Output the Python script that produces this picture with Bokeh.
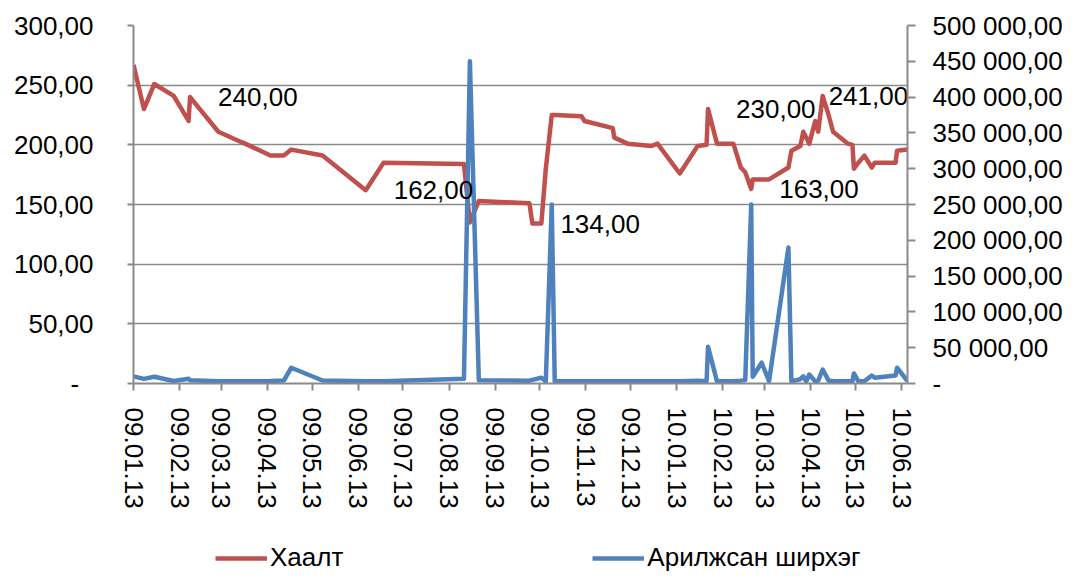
import numpy as np
from bokeh.plotting import figure
from bokeh.layouts import column
from bokeh.models import (Range1d, LinearAxis, FixedTicker, DatetimeTickFormatter,
                          Legend, LegendItem)
from bokeh.core.properties import value
from bokeh.embed import file_html
from bokeh.resources import INLINE

# ---------------- data ----------------
dates = [
    "2009-01-13", "2009-01-20", "2009-01-27", "2009-02-09", "2009-02-19", "2009-02-20",
    "2009-03-11", "2009-03-27", "2009-03-29", "2009-04-15", "2009-04-24", "2009-04-29",
    "2009-05-20", "2009-06-18", "2009-06-30", "2009-08-23", "2009-08-27", "2009-09-02",
    "2009-10-06", "2009-10-08", "2009-10-14", "2009-10-17", "2009-10-21", "2009-10-23",
    "2009-11-10", "2009-11-12", "2009-12-01", "2009-12-02", "2009-12-11", "2009-12-27",
    "2009-12-31", "2010-01-15", "2010-01-27", "2010-02-02", "2010-02-03", "2010-02-09",
    "2010-02-20", "2010-02-25", "2010-02-28", "2010-03-04", "2010-03-05", "2010-03-11",
    "2010-03-16", "2010-03-29", "2010-03-31", "2010-04-06", "2010-04-08", "2010-04-10",
    "2010-04-12", "2010-04-16", "2010-04-18", "2010-04-21", "2010-04-25", "2010-04-28",
    "2010-05-08", "2010-05-11", "2010-05-12", "2010-05-15", "2010-05-19", "2010-05-24",
    "2010-05-26", "2010-06-09", "2010-06-10", "2010-06-17",
]
close_price = [
    267, 230, 251, 241, 220, 240,
    211, 202, 201, 191, 191, 196,
    191, 162, 185, 184, 135, 153,
    151, 134, 134, 180, 225, 225,
    224, 220, 214, 206, 201, 199,
    201, 176, 199, 200, 230, 201,
    201, 181, 177, 163, 171, 171,
    171, 181, 195, 199, 211, 206,
    201, 220, 211, 241, 225, 211,
    201, 200, 180, 185, 191, 181,
    185, 185, 195, 196,
]
volume = [
    10000, 6500, 9400, 3500, 6500, 4600,
    3300, 3000, 3000, 3500, 4200, 22000,
    4200, 3000, 3000, 6500, 450000, 4600,
    4000, 5000, 8000, 3000, 250000, 3000,
    3000, 3000, 3000, 3000, 3000, 3000,
    3000, 3000, 4000, 3000, 51400, 3000,
    3000, 4000, 5000, 250000, 9400, 29000,
    3300, 190000, 3000, 6000, 10000, 3000,
    12600, 3000, 4000, 19600, 4000, 3500,
    3000, 3000, 14000, 3000, 3000, 11200,
    8000, 11200, 22000, 3300,
]

label_dates = ["2009-02-20", "2009-06-18", "2009-10-08", "2010-02-03", "2010-03-04", "2010-04-21"]
label_values = [240, 162, 134, 230, 163, 241]

x_tick_dates = [
    "2009-01-13", "2009-02-13", "2009-03-13", "2009-04-13", "2009-05-13", "2009-06-13",
    "2009-07-13", "2009-08-13", "2009-09-13", "2009-10-13", "2009-11-13", "2009-12-13",
    "2010-01-13", "2010-02-13", "2010-03-13", "2010-04-13", "2010-05-13", "2010-06-13",
]
left_ticks = [0, 50, 100, 150, 200, 250, 300]
left_tick_labels = ["-\u2007", "50,00", "100,00", "150,00", "200,00", "250,00", "300,00"]
right_ticks = [0, 50000, 100000, 150000, 200000, 250000, 300000, 350000, 400000, 450000, 500000]
right_tick_labels = ["-", "50 000,00", "100 000,00", "150 000,00", "200 000,00", "250 000,00",
                     "300 000,00", "350 000,00", "400 000,00", "450 000,00", "500 000,00"]
series_names = ["Хаалт", "Арилжсан ширхэг"]

# ---------------- styling ----------------
FONT = "Liberation Sans"
FS = "26px"
RED = "#C0504D"
BLUE = "#4F81BD"
GRAY = "#8a8a8a"
LW = 4.5
# screen offsets of the data labels (last one pulled in so it stays inside the plot area)
label_offsets = [28, 28, 28, 28, 28, 6]

x = np.array(dates, dtype="datetime64[ms]")
lx = np.array(label_dates, dtype="datetime64[ms]")
xt = np.array(x_tick_dates, dtype="datetime64[ms]").astype("int64").tolist()

p = figure(
    frame_width=774, frame_height=358,
    min_border_left=133, min_border_right=156, min_border_top=25, min_border_bottom=127,
    x_axis_type="datetime",
    x_range=Range1d(x[0], np.datetime64("2010-06-17", "ms")),
    y_range=Range1d(0, 300),
    output_backend="svg", toolbar_location=None,
)
p.outline_line_color = None
p.background_fill_color = "white"
p.border_fill_color = "white"
p.extra_y_ranges = {"vol": Range1d(0, 500000)}


def style_axis(ax, tick_out, standoff):
    ax.axis_line_color = GRAY
    ax.axis_line_width = 2
    ax.major_tick_line_color = GRAY
    ax.major_tick_line_width = 2
    ax.major_tick_in = 0
    ax.major_tick_out = tick_out
    ax.minor_tick_line_color = None
    ax.major_label_standoff = standoff
    ax.major_label_text_font = FONT
    ax.major_label_text_font_size = FS
    ax.major_label_text_color = "black"


# left axis
ya = p.yaxis[0]
ya.ticker = FixedTicker(ticks=left_ticks)
ya.major_label_overrides = dict(zip(left_ticks, left_tick_labels))
style_axis(ya, 6, 34)

# right axis
ra = LinearAxis(y_range_name="vol", ticker=FixedTicker(ticks=right_ticks))
ra.major_label_overrides = dict(zip(right_ticks, right_tick_labels))
style_axis(ra, 8, 17)
p.add_layout(ra, "right")

# x axis
xa = p.xaxis[0]
xa.ticker = FixedTicker(ticks=xt)
fmt = "%y.%m.%d"
xa.formatter = DatetimeTickFormatter(
    microseconds=fmt, milliseconds=fmt, seconds=fmt, minsec=fmt, minutes=fmt,
    hourmin=fmt, hours=fmt, days=fmt, months=fmt, years=fmt)
xa.major_label_orientation = "vertical"
style_axis(xa, 7, 17)

# grids
p.xgrid.grid_line_color = None
p.ygrid.ticker = FixedTicker(ticks=left_ticks)
p.ygrid.grid_line_color = GRAY
p.ygrid.grid_line_width = 1.5

# series
r_red = p.line(x, close_price, line_color=RED, line_width=LW, line_join="round")
r_blue = p.line(x, volume, line_color=BLUE, line_width=LW, line_join="round",
                y_range_name="vol")

# data labels
p.text(x=lx, y=label_values,
       text=[f"{v:.2f}".replace(".", ",") for v in label_values],
       x_offset=label_offsets, text_align="left", text_baseline="middle",
       text_font=value(FONT), text_font_size=FS, text_color="black")

# ---------------- legend strip ----------------
pl = figure(width=1063, height=62, min_border=0, x_range=Range1d(0, 1), y_range=Range1d(0, 1),
            output_backend="svg", toolbar_location=None,
            x_axis_location=None, y_axis_location=None)
pl.outline_line_color = None
pl.xgrid.visible = False
pl.ygrid.visible = False
# proxy renderers for the legend keys (kept outside the visible range)
l_red = pl.line(x=[0, 1], y=[-5, -5], line_color=RED, line_width=LW)
l_blue = pl.line(x=[0, 1], y=[-5, -5], line_color=BLUE, line_width=LW)
legend = Legend(
    items=[LegendItem(label=series_names[0], renderers=[l_red]),
           LegendItem(label=series_names[1], renderers=[l_blue])],
    orientation="horizontal", location=(82, 0),
    glyph_width=52, glyph_height=30, label_height=30, label_standoff=3,
    spacing=249, padding=0, margin=0,
    border_line_color=None, background_fill_alpha=0,
    label_text_font=FONT, label_text_font_size=FS, label_text_color="black",
)
pl.add_layout(legend)

layout = column(p, pl, spacing=0)
open("out.html", "w").write(file_html(layout, INLINE))
